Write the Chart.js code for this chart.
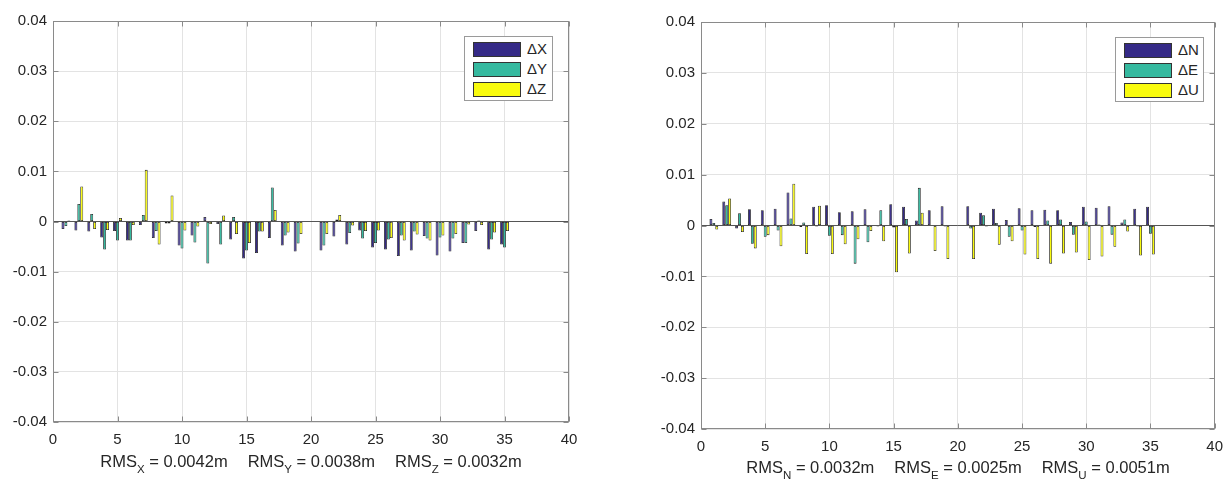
<!DOCTYPE html>
<html>
<head>
<meta charset="utf-8">
<script src="https://cdn.jsdelivr.net/npm/chart.js@4.4.1/dist/chart.umd.min.js"></script>
<style>
  body { margin: 0; background: #fff; }
  .panel { position: absolute; top: 0; width: 616px; height: 484px; }
  .panel canvas { position: absolute; left: 0; top: 0; }
  .legend {
    position: absolute; width: 87px; height: 63px; background: #fff;
    border: 1px solid #9a9a9a; font: 15px "Liberation Sans", Arial, sans-serif; color: #262626;
  }
  .legend .row { position: absolute; left: 8px; height: 15px; }
  .legend .sw { position: absolute; left: 0; top: 0; width: 46px; height: 13px; border: 1px solid #333; }
  .legend .lab { position: absolute; left: 54px; top: -2px; white-space: nowrap; }
  .xlabel {
    position: absolute; white-space: nowrap; text-align: center;
    font: 16.5px "Liberation Sans", Arial, sans-serif; color: #262626;
  }
  .xlabel span { display: inline-block; margin: 0 10px; }
  .xlabel sub { font-size: 11.5px; vertical-align: -6px; line-height: 0; }
</style>
</head>
<body>
<div class="panel" id="p1" style="left:0">
  <canvas id="xyzChart" width="616" height="484"></canvas>
</div>
<div class="panel" id="p2" style="left:616px">
  <canvas id="neuChart" width="616" height="484"></canvas>
</div>
<script>
// station numbers (station 20 has no solution)
const stations = [1, 2, 3, 4, 5, 6, 7, 8, 9, 10, 11, 12, 13, 14, 15, 16, 17, 18, 19, 20,
  21, 22, 23, 24, 25, 26, 27, 28, 29, 30, 31, 32, 33, 34, 35];

// coordinate differences in metres
const dX = [-0.0015, -0.0018, -0.0020, -0.0032, -0.0019, -0.0038, -0.0007, -0.0033, -0.0004, -0.0048,
  -0.0028, 0.0009, -0.0005, -0.0036, -0.0074, -0.0063, -0.0033, -0.0048, -0.0060, null,
  -0.0058, -0.0030, -0.0046, -0.0018, -0.0052, -0.0056, -0.0069, -0.0058, -0.0029, -0.0068,
  -0.0060, -0.0043, -0.0019, -0.0056, -0.0046];
const dY = [-0.0009, 0.0035, 0.0015, -0.0056, -0.0038, -0.0038, 0.0013, -0.0019, -0.0004, -0.0054,
  -0.0042, -0.0084, -0.0046, 0.0009, -0.0058, -0.0020, 0.0068, -0.0028, -0.0044, null,
  -0.0048, 0.0004, -0.0023, -0.0034, -0.0043, -0.0036, -0.0028, -0.0020, -0.0034, -0.0032,
  -0.0034, -0.0043, 0.0002, -0.0036, -0.0052];
const dZ = [0.0002, 0.0070, -0.0015, -0.0017, 0.0007, -0.0007, 0.0103, -0.0046, 0.0052, -0.0018,
  -0.0010, -0.0005, 0.0012, -0.0025, -0.0043, -0.0020, 0.0023, -0.0022, -0.0025, null,
  -0.0025, 0.0013, -0.0008, -0.0019, -0.0018, -0.0033, -0.0038, -0.0026, -0.0038, -0.0028,
  -0.0025, -0.0006, -0.0007, -0.0022, -0.0019];

const dN = [0.0013, 0.0047, -0.0006, 0.0032, 0.0030, 0.0033, 0.0065, -0.0003, 0.0037, 0.0040,
  0.0026, 0.0028, 0.0032, -0.0002, 0.0042, 0.0037, 0.0010, 0.0030, 0.0038, null,
  0.0038, 0.0025, 0.0033, 0.0011, 0.0034, 0.0030, 0.0031, 0.0030, 0.0007, 0.0037,
  0.0035, 0.0038, 0.0006, 0.0033, 0.0037];
const dE = [0.0005, 0.0040, 0.0024, -0.0036, -0.0022, -0.0010, 0.0014, 0.0006, -0.0002, -0.0020,
  -0.0019, -0.0075, -0.0033, 0.0030, -0.0004, 0.0013, 0.0074, 0.0001, -0.0002, null,
  -0.0006, 0.0020, 0.0005, -0.0022, -0.0010, -0.0003, 0.0010, 0.0012, -0.0018, 0.0008,
  0.0002, -0.0018, 0.0012, -0.0002, -0.0016];
const dU = [-0.0008, 0.0053, -0.0013, -0.0045, -0.0019, -0.0041, 0.0082, -0.0056, 0.0039, -0.0056,
  -0.0037, -0.0027, -0.0011, -0.0031, -0.0092, -0.0055, 0.0025, -0.0050, -0.0066, null,
  -0.0066, -0.0002, -0.0038, -0.0031, -0.0057, -0.0066, -0.0075, -0.0055, -0.0053, -0.0068,
  -0.0061, -0.0042, -0.0012, -0.0059, -0.0057];

const xyzNames = ['\u0394X', '\u0394Y', '\u0394Z'];
const neuNames = ['\u0394N', '\u0394E', '\u0394U'];
const rmsXYZ = [['X', '0.0042'], ['Y', '0.0038'], ['Z', '0.0032']];
const rmsNEU = [['N', '0.0032'], ['E', '0.0025'], ['U', '0.0051']];

const xTicks = { min: 0, max: 40, step: 5 };
const yTicks = { min: -0.04, max: 0.04, step: 0.01 };

const colors = ['#352a87', '#35b99f', '#f9fb0e'];
const fontFamily = '"Liberation Sans", Arial, Helvetica, sans-serif';
const textColor = '#262626';
const boxColor = '#8a8a8a';

// box around the axes with inward ticks on all four sides
const axisBox = {
  id: 'axisBox',
  afterDraw(chart) {
    const { ctx, chartArea: a, scales: { x, y } } = chart;
    const L = Math.round(a.left) + 0.5, R = Math.round(a.right) - 0.5;
    const T = Math.round(a.top) + 0.5, B = Math.round(a.bottom) - 0.5;
    ctx.save();
    ctx.strokeStyle = boxColor;
    ctx.lineWidth = 1;
    ctx.beginPath();
    x.ticks.forEach(t => {
      const px = Math.round(x.getPixelForValue(t.value)) + 0.5;
      ctx.moveTo(px, B); ctx.lineTo(px, B - 5);
      ctx.moveTo(px, T); ctx.lineTo(px, T + 5);
    });
    y.ticks.forEach(t => {
      const py = Math.round(y.getPixelForValue(t.value)) + 0.5;
      ctx.moveTo(L, py); ctx.lineTo(L + 5, py);
      ctx.moveTo(R, py); ctx.lineTo(R - 5, py);
    });
    ctx.stroke();
    ctx.strokeRect(L, T, R - L, B - T);
    ctx.restore();
  }
};

function makeChart(id, series, names, area) {
  const W = 616, H = 484;
  const datasets = series.map((vals, i) => ({
    label: names[i],
    data: stations.map((s, k) => ({ x: s, y: vals[k] })),
    backgroundColor: colors[i],
    borderColor: '#1e1e1e',
    borderWidth: 0.8,
    borderSkipped: false,
    categoryPercentage: 0.68,
    barPercentage: 1.0
  }));
  return new Chart(document.getElementById(id), {
    type: 'bar',
    data: { datasets },
    options: {
      responsive: false,
      animation: false,
      devicePixelRatio: 1,
      layout: { padding: { left: 0, top: area.top, right: W - area.right, bottom: 0 } },
      plugins: { legend: { display: false }, tooltip: { enabled: false } },
      scales: {
        x: {
          type: 'linear',
          offset: false,
          min: xTicks.min,
          max: xTicks.max,
          afterFit: s => { s.height = H - area.bottom; },
          border: { display: false },
          grid: { color: '#e3e3e3', drawTicks: false, offset: false },
          ticks: {
            stepSize: xTicks.step,
            padding: 9,
            color: textColor,
            font: { family: fontFamily, size: 15 },
            maxRotation: 0
          }
        },
        y: {
          min: yTicks.min,
          max: yTicks.max,
          afterFit: s => { s.width = area.left; },
          border: { display: false },
          grid: {
            drawTicks: false,
            color: c => Math.abs(c.tick.value) < 1e-9 ? '#555' : '#e3e3e3'
          },
          ticks: {
            stepSize: yTicks.step,
            padding: 6,
            color: textColor,
            font: { family: fontFamily, size: 15 },
            callback: v => Math.abs(v) < 1e-9 ? '0' : v.toFixed(2)
          }
        }
      }
    },
    plugins: [axisBox]
  });
}

function addLegend(panelId, names, left, top) {
  const box = document.createElement('div');
  box.className = 'legend';
  box.style.left = left + 'px';
  box.style.top = top + 'px';
  names.forEach((n, i) => {
    const row = document.createElement('div');
    row.className = 'row';
    row.style.top = (5 + i * 20) + 'px';
    row.innerHTML = '<div class="sw" style="background:' + colors[i] + '"></div><div class="lab">' + n + '</div>';
    box.appendChild(row);
  });
  document.getElementById(panelId).appendChild(box);
}

function addXLabel(panelId, rms, center, top) {
  const el = document.createElement('div');
  el.className = 'xlabel';
  el.style.left = (center - 300) + 'px';
  el.style.width = '600px';
  el.style.top = top + 'px';
  el.innerHTML = rms.map(r => '<span>RMS<sub>' + r[0] + '</sub> = ' + r[1] + 'm</span>').join('');
  document.getElementById(panelId).appendChild(el);
}

makeChart('xyzChart', [dX, dY, dZ], xyzNames, { left: 53, top: 21, right: 569, bottom: 422 });
makeChart('neuChart', [dN, dE, dU], neuNames, { left: 85, top: 22, right: 603, bottom: 429 });

addLegend('p1', xyzNames, 464, 36);
addLegend('p2', neuNames, 499, 37);
addXLabel('p1', rmsXYZ, 311, 452);
addXLabel('p2', rmsNEU, 342, 458);
</script>
</body>
</html>
